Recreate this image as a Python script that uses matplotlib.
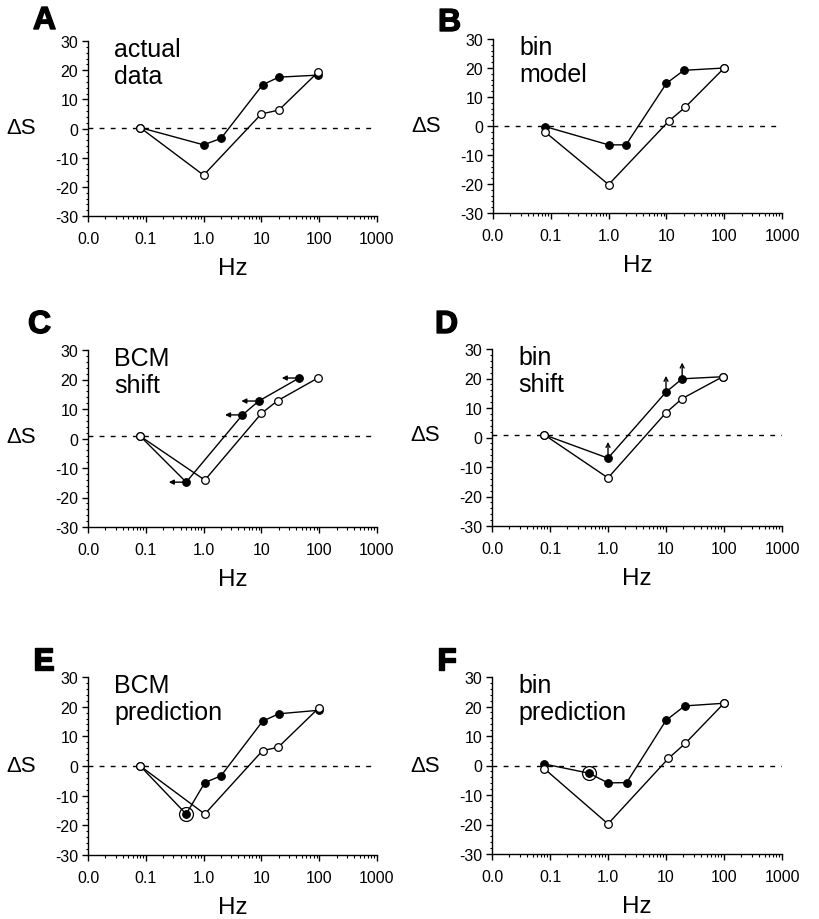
import matplotlib
matplotlib.use("Agg")
import matplotlib.pyplot as plt
import matplotlib.patheffects as pe
import numpy as np

plt.rcParams['font.family'] = ['Liberation Sans', 'DejaVu Sans']

# panel data: (filled x, filled y, open x, open y)
a_fill_x = [0.08, 1, 2, 10.5, 20, 95]
a_fill_y = [0.3, -5.6, -3.4, 15.0, 17.6, 18.3]
a_open_x = [0.08, 1, 10, 20, 95]
a_open_y = [0.3, -16.0, 5.0, 6.3, 19.3]

b_fill_x = [0.08, 1, 2, 10, 20, 100]
b_fill_y = [-0.2, -6.5, -6.5, 14.7, 19.2, 20.0]
b_open_x = [0.08, 1, 11, 21, 100]
b_open_y = [-2.1, -20.2, 1.7, 6.4, 20.0]

c_fill_x = [0.08, 0.5, 4.7, 9, 45]
c_fill_y = [0.8, -14.8, 8.0, 12.7, 20.5]
c_open_x = [0.08, 1.05, 10, 19, 95]
c_open_y = [0.8, -14.1, 8.5, 12.8, 20.5]

d_fill_x = [0.08, 1, 10, 19, 95]
d_fill_y = [0.9, -7.0, 15.4, 19.9, 20.6]
d_open_x = [0.08, 1, 10, 19, 95]
d_open_y = [0.9, -13.7, 8.4, 13.2, 20.6]

e_fill_x = [0.08, 0.5, 1.05, 2, 10.5, 20, 100]
e_fill_y = [0.0, -16.2, -5.6, -3.3, 15.1, 17.6, 18.8]
e_open_x = [0.08, 1.05, 10.5, 19.5, 100]
e_open_y = [0.0, -16.2, 5.2, 6.3, 19.7]

f_fill_x = [0.08, 0.47, 1, 2.1, 10, 21, 100]
f_fill_y = [0.5, -2.6, -5.9, -5.8, 15.3, 20.2, 21.1]
f_open_x = [0.08, 1, 11, 21.5, 100]
f_open_y = [-1.1, -19.8, 2.4, 7.5, 21.1]

letters = ['A', 'B', 'C', 'D', 'E', 'F']
notes = ['actual\ndata', 'bin\nmodel', 'BCM\nshift', 'bin\nshift', 'BCM\nprediction', 'bin\nprediction']
zero_lines = [0.3, 0, 0.8, 0.9, 0, 0]

x_ticks = [0.01, 0.1, 1, 10, 100, 1000]
x_labels = ['0.0', '0.1', '1.0', '10', '100', '1000']
y_ticks = [-30, -20, -10, 0, 10, 20, 30]

panels = [
    (a_fill_x, a_fill_y, a_open_x, a_open_y),
    (b_fill_x, b_fill_y, b_open_x, b_open_y),
    (c_fill_x, c_fill_y, c_open_x, c_open_y),
    (d_fill_x, d_fill_y, d_open_x, d_open_y),
    (e_fill_x, e_fill_y, e_open_x, e_open_y),
    (f_fill_x, f_fill_y, f_open_x, f_open_y),
]

# axes rectangles in figure pixels (left, top, right, bottom)
W, H = 819, 920
boxes = [(88, 42, 377, 217), (493, 40, 782, 214),
         (88, 351, 377, 528), (492, 350, 782, 527),
         (88, 678, 377, 856), (492, 678, 782, 855)]
letter_pos = [(33, 7), (438, 9), (28, 311), (435, 311), (33, 648), (437, 648)]

fig = plt.figure(figsize=(W / 100, H / 100), dpi=100)

for i, (fx, fy, ox, oy) in enumerate(panels):
    l, t, r, b = boxes[i]
    ax = fig.add_axes([l / W, 1 - b / H, (r - l) / W, (b - t) / H])
    ax.set_xscale('log')
    ax.set_xlim(0.01, 1000)
    ax.set_ylim(-30, 30)
    for s in ['top', 'right']:
        ax.spines[s].set_visible(False)
    for s in ['left', 'bottom']:
        ax.spines[s].set_linewidth(1.0)

    ax.axhline(zero_lines[i], color='black', lw=1.0, ls=(0, (3.5, 4.5)), zorder=1)

    ax.plot(fx, fy, '-', color='black', lw=1.0, marker='o', ms=5.5,
            mfc='black', mec='black', mew=0.8, zorder=3)
    ax.plot(ox, oy, '-', color='black', lw=1.0, marker='o', ms=5.5,
            mfc='white', mec='black', mew=0.9, zorder=4)

    # shifts shown as arrows
    if letters[i] == 'C':
        for x, y in zip(fx[1:], fy[1:]):
            ax.annotate('', xy=(x / 2.0, y), xytext=(x / 1.15, y),
                        arrowprops=dict(arrowstyle='-|>', color='black', lw=1.0,
                                        mutation_scale=7, shrinkA=0, shrinkB=0),
                        zorder=5)
    if letters[i] == 'D':
        for x, y in zip(fx[1:4], fy[1:4]):
            ax.annotate('', xy=(x, y + 5.5), xytext=(x, y + 1.0),
                        arrowprops=dict(arrowstyle='->', color='black', lw=1.0,
                                        mutation_scale=7, shrinkA=0, shrinkB=0),
                        zorder=5)
    # predicted point ringed
    if letters[i] in ('E', 'F'):
        ax.plot(fx[1], fy[1], 'o', ms=10, mfc='none', mec='black', mew=0.9, zorder=5)

    ax.set_xticks(x_ticks)
    ax.set_xticklabels(x_labels)
    ax.set_yticks(y_ticks)
    ax.set_yticklabels([str(v) for v in y_ticks])
    ax.set_yticks(np.arange(-30, 31, 2), minor=True)
    ax.tick_params(axis='both', which='major', labelsize=11.5, length=4, width=1, direction='out')
    ax.tick_params(axis='both', which='minor', length=2, width=0.8, direction='out')
    ax.tick_params(axis='y', which='minor', length=1.5)
    ax.tick_params(axis='x', pad=7)
    ax.tick_params(axis='y', pad=3)

    ax.set_xlabel('Hz', fontsize=17.5, labelpad=8)
    ax.set_ylabel('ΔS', fontsize=16, rotation=0, va='center', ha='center')
    ax.yaxis.set_label_coords(-0.23, (zero_lines[i] + 30) / 60)

    ax.text(0.09, 1.025, notes[i], transform=ax.transAxes, fontsize=18,
            va='top', ha='left', linespacing=1.2)

    lx, ly = letter_pos[i]
    fig.text(lx / W, 1 - ly / H, letters[i], fontsize=23, fontweight='bold',
             va='top', ha='left',
             path_effects=[pe.withStroke(linewidth=1.0, foreground='black')])

fig.savefig('out.png', dpi=100)
